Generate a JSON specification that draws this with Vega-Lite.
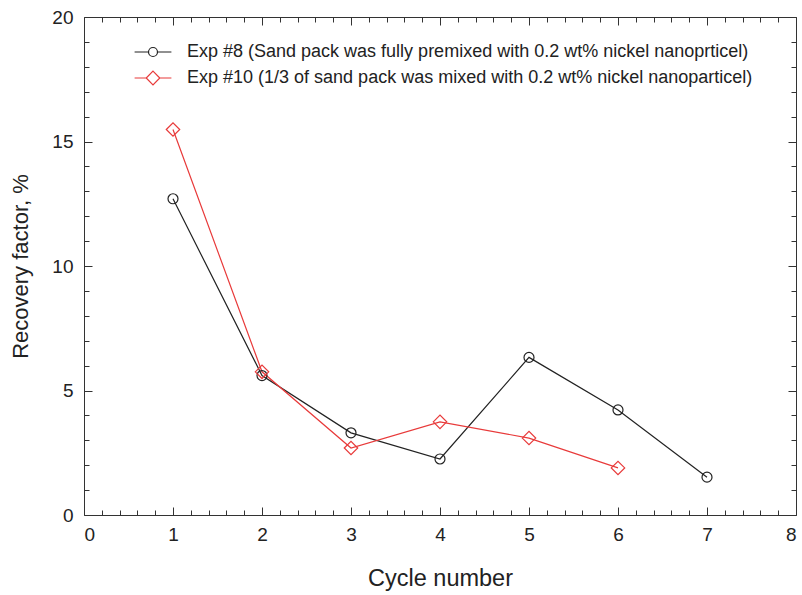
{
  "$schema": "https://vega.github.io/schema/vega-lite/v6.json",
  "width": 712,
  "height": 498,
  "autosize": {"type": "none"},
  "padding": {"left": 84, "top": 17, "right": 6, "bottom": 80},
  "background": "white",
  "config": {
    "font": "Liberation Sans",
    "view": {"stroke": "#333333", "strokeWidth": 1},
    "axis": {"grid": false, "domain": false, "tickColor": "#333333", "tickWidth": 1, "labelColor": "#222222", "titleColor": "#222222", "labelFont": "Liberation Sans", "titleFont": "Liberation Sans", "titleFontWeight": "normal"}
  },
  "data": {
    "values": [
      {"series": "Exp #8 (Sand pack was fully premixed with 0.2 wt% nickel nanoprticel)", "cycle": 1, "rf": 12.7},
      {"series": "Exp #8 (Sand pack was fully premixed with 0.2 wt% nickel nanoprticel)", "cycle": 2, "rf": 5.6},
      {"series": "Exp #8 (Sand pack was fully premixed with 0.2 wt% nickel nanoprticel)", "cycle": 3, "rf": 3.3},
      {"series": "Exp #8 (Sand pack was fully premixed with 0.2 wt% nickel nanoprticel)", "cycle": 4, "rf": 2.25},
      {"series": "Exp #8 (Sand pack was fully premixed with 0.2 wt% nickel nanoprticel)", "cycle": 5, "rf": 6.33},
      {"series": "Exp #8 (Sand pack was fully premixed with 0.2 wt% nickel nanoprticel)", "cycle": 6, "rf": 4.22},
      {"series": "Exp #8 (Sand pack was fully premixed with 0.2 wt% nickel nanoprticel)", "cycle": 7, "rf": 1.52},
      {"series": "Exp #10 (1/3 of sand pack was mixed with 0.2 wt% nickel nanoparticel)", "cycle": 1, "rf": 15.48},
      {"series": "Exp #10 (1/3 of sand pack was mixed with 0.2 wt% nickel nanoparticel)", "cycle": 2, "rf": 5.75},
      {"series": "Exp #10 (1/3 of sand pack was mixed with 0.2 wt% nickel nanoparticel)", "cycle": 3, "rf": 2.69},
      {"series": "Exp #10 (1/3 of sand pack was mixed with 0.2 wt% nickel nanoparticel)", "cycle": 4, "rf": 3.74},
      {"series": "Exp #10 (1/3 of sand pack was mixed with 0.2 wt% nickel nanoparticel)", "cycle": 5, "rf": 3.09},
      {"series": "Exp #10 (1/3 of sand pack was mixed with 0.2 wt% nickel nanoparticel)", "cycle": 6, "rf": 1.89}
    ]
  },
  "resolve": {"axis": {"x": "independent", "y": "independent"}, "scale": {"shape": "independent", "color": "independent"}},
  "layer": [
    {
      "mark": {"type": "line", "strokeWidth": 1.2},
      "encoding": {
        "x": {"field": "cycle", "type": "quantitative", "scale": {"domain": [0, 8], "nice": false},
          "axis": {"orient": "bottom", "title": "Cycle number", "titleFontSize": 23.5, "titlePadding": 22, "labelFontSize": 19, "labelPadding": 18, "format": "d",
            "values": [0,1,2,3,4,5,6,7,8], "tickSize": -8}},
        "y": {"field": "rf", "type": "quantitative", "scale": {"domain": [0, 20], "nice": false},
          "axis": {"orient": "left", "title": "Recovery factor, %", "titleFontSize": 22, "titlePadding": 19, "labelFontSize": 19, "labelPadding": 19,
            "values": [0,5,10,15,20], "tickSize": -8}},
        "color": {"field": "series", "type": "nominal", "legend": null,
          "scale": {"domain": ["Exp #8 (Sand pack was fully premixed with 0.2 wt% nickel nanoprticel)", "Exp #10 (1/3 of sand pack was mixed with 0.2 wt% nickel nanoparticel)"], "range": ["#222222", "#e83a3a"]}}
      }
    },
    {
      "mark": {"type": "point", "filled": false, "strokeWidth": 1.2, "opacity": 1},
      "encoding": {
        "x": {"field": "cycle", "type": "quantitative",
          "axis": {"orient": "top", "title": null, "labels": false, "values": [0,1,2,3,4,5,6,7,8], "tickSize": -8}},
        "y": {"field": "rf", "type": "quantitative",
          "axis": {"orient": "right", "title": null, "labels": false, "values": [0,5,10,15,20], "tickSize": -8}},
        "color": {"field": "series", "type": "nominal", "legend": null,
          "scale": {"domain": ["Exp #8 (Sand pack was fully premixed with 0.2 wt% nickel nanoprticel)", "Exp #10 (1/3 of sand pack was mixed with 0.2 wt% nickel nanoparticel)"], "range": ["#222222", "#e83a3a"]}},
        "shape": {"field": "series", "type": "nominal", "legend": null,
          "scale": {"domain": ["Exp #8 (Sand pack was fully premixed with 0.2 wt% nickel nanoprticel)", "Exp #10 (1/3 of sand pack was mixed with 0.2 wt% nickel nanoparticel)"], "range": ["circle", "diamond"]}},
        "size": {"field": "series", "type": "nominal", "legend": null,
          "scale": {"domain": ["Exp #8 (Sand pack was fully premixed with 0.2 wt% nickel nanoprticel)", "Exp #10 (1/3 of sand pack was mixed with 0.2 wt% nickel nanoparticel)"], "range": [100, 180]}}
      }
    },
    {
      "transform": [{"filter": "datum.cycle > 100"}],
      "mark": {"type": "point", "filled": false, "strokeWidth": 1.2},
      "encoding": {
        "x": {"field": "cycle", "type": "quantitative",
          "axis": {"orient": "bottom", "title": null, "labels": false, "tickSize": -5,
            "values": [0.2,0.4,0.6,0.8,1.2,1.4,1.6,1.8,2.2,2.4,2.6,2.8,3.2,3.4,3.6,3.8,4.2,4.4,4.6,4.8,5.2,5.4,5.6,5.8,6.2,6.4,6.6,6.8,7.2,7.4,7.6,7.8]}},
        "y": {"field": "rf", "type": "quantitative",
          "axis": {"orient": "left", "title": null, "labels": false, "tickSize": -5,
            "values": [1,2,3,4,6,7,8,9,11,12,13,14,16,17,18,19]}},
        "color": {"field": "series", "type": "nominal",
          "scale": {"domain": ["Exp #8 (Sand pack was fully premixed with 0.2 wt% nickel nanoprticel)", "Exp #10 (1/3 of sand pack was mixed with 0.2 wt% nickel nanoparticel)"], "range": ["#222222", "#e83a3a"]},
          "legend": {"title": null, "orient": "none", "legendX": 60, "legendY": 26, "symbolSize": 256, "symbolStrokeWidth": 1.2, "symbolFillColor": "transparent", "labelFontSize": 18, "labelFont": "Liberation Sans", "labelColor": "#222222", "labelOffset": 25, "labelLimit": 800, "rowPadding": 7, "padding": 0, "symbolOpacity": 1}},
        "shape": {"field": "series", "type": "nominal",
          "scale": {"domain": ["Exp #8 (Sand pack was fully premixed with 0.2 wt% nickel nanoprticel)", "Exp #10 (1/3 of sand pack was mixed with 0.2 wt% nickel nanoparticel)"],
            "range": ["M-2.3,0H-0.56M0.56,0H2.3M0.56,0A0.56,0.56,0,1,1,-0.56,0A0.56,0.56,0,1,1,0.56,0Z", "M-2.3,0H-0.85M0.85,0H2.3M0,-0.85L0.85,0L0,0.85L-0.85,0Z"]},
          "legend": {"title": null, "orient": "none", "legendX": 60, "legendY": 26, "symbolSize": 256, "symbolStrokeWidth": 1.2, "symbolFillColor": "transparent", "labelFontSize": 18, "labelFont": "Liberation Sans", "labelColor": "#222222", "labelOffset": 25, "labelLimit": 800, "rowPadding": 7, "padding": 0, "symbolOpacity": 1}}
      }
    },
    {
      "transform": [{"filter": "datum.cycle > 100"}],
      "mark": {"type": "point", "filled": false},
      "encoding": {
        "x": {"field": "cycle", "type": "quantitative",
          "axis": {"orient": "top", "title": null, "labels": false, "tickSize": -5,
            "values": [0.2,0.4,0.6,0.8,1.2,1.4,1.6,1.8,2.2,2.4,2.6,2.8,3.2,3.4,3.6,3.8,4.2,4.4,4.6,4.8,5.2,5.4,5.6,5.8,6.2,6.4,6.6,6.8,7.2,7.4,7.6,7.8]}},
        "y": {"field": "rf", "type": "quantitative",
          "axis": {"orient": "right", "title": null, "labels": false, "tickSize": -5,
            "values": [1,2,3,4,6,7,8,9,11,12,13,14,16,17,18,19]}}
      }
    }
  ]
}
